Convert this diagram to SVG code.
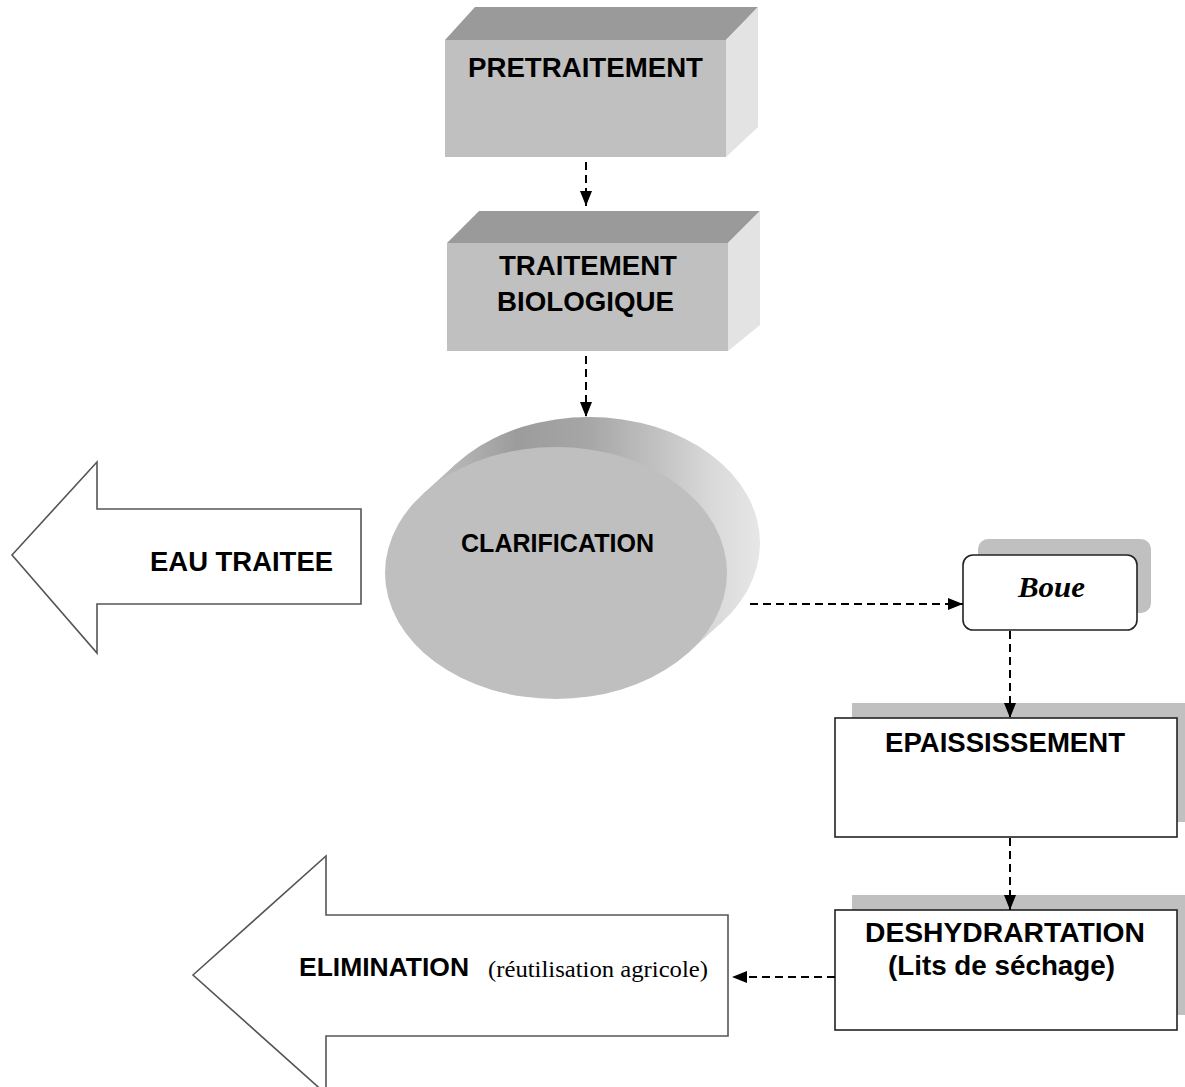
<svg xmlns="http://www.w3.org/2000/svg" width="1185" height="1087" viewBox="0 0 1185 1087">
<style>
.t{font-family:"Liberation Sans",Arial,sans-serif;font-weight:bold;fill:#000;text-anchor:middle}
.big{font-size:27.5px}
.conn{stroke:#000;stroke-width:2;stroke-dasharray:8 5;fill:none}
.out{fill:#fff;stroke:#555;stroke-width:1.6}
.front{fill:#c0c0c0}
.top{fill:#9a9a9a}
.side{fill:#e3e3e3}
.shadow{fill:#c0c0c0}
.box{fill:#fff;stroke:#222;stroke-width:1.6}
</style>
<defs>
<marker id="ah" markerWidth="16" markerHeight="12" refX="15" refY="6" orient="auto" markerUnits="userSpaceOnUse">
<path d="M0,0 L15,6 L0,12 z" fill="#000"/>
</marker>
<linearGradient id="cyl" gradientUnits="userSpaceOnUse" x1="410" y1="0" x2="765" y2="0">
<stop offset="0" stop-color="#c8c8c8"/>
<stop offset="0.3" stop-color="#9c9c9c"/>
<stop offset="0.5" stop-color="#a6a6a6"/>
<stop offset="0.7" stop-color="#c2c2c2"/>
<stop offset="0.85" stop-color="#d9d9d9"/>
<stop offset="1" stop-color="#e8e8e8"/>
</linearGradient>
</defs>

<g id="pretraitement">
<polygon class="top" points="445,40 475,7 758,7 726,40"/>
<polygon class="side" points="726,40 758,7 758,127 726,157"/>
<rect class="front" x="445" y="40" width="281" height="117"/>
<text class="t big" x="585.5" y="77" textLength="235" lengthAdjust="spacingAndGlyphs">PRETRAITEMENT</text>
</g>

<g id="traitement-biologique">
<polygon class="top" points="447,243 479,211 760,211 728,243"/>
<polygon class="side" points="728,243 760,211 760,325 728,351"/>
<rect class="front" x="447" y="243" width="281" height="108"/>
<text class="t big" x="588" y="275" textLength="178" lengthAdjust="spacingAndGlyphs">TRAITEMENT</text>
<text class="t big" x="585.5" y="311" textLength="177" lengthAdjust="spacingAndGlyphs">BIOLOGIQUE</text>
</g>

<g id="clarification">
<ellipse cx="589" cy="543" rx="171" ry="126" fill="url(#cyl)"/>
<polygon points="688.8,652.3 721.8,622.3 456.2,463.7 423.2,493.7" fill="url(#cyl)"/>
<ellipse cx="556" cy="573" rx="171" ry="126" fill="#bfbfbf"/>
<text class="t" x="557.5" y="552" font-size="25" textLength="193" lengthAdjust="spacingAndGlyphs">CLARIFICATION</text>
</g>

<g id="eau-traitee">
<polygon class="out" points="12,555 97,462 97,509 361,509 361,604 97,604 97,653"/>
<text class="t big" x="241.5" y="571" textLength="183" lengthAdjust="spacingAndGlyphs">EAU TRAITEE</text>
</g>

<g id="boue">
<rect class="shadow" x="978" y="539" width="173" height="74" rx="10"/>
<rect class="box" x="963" y="555" width="174" height="75" rx="10"/>
<text x="1051.5" y="597" font-family="'Liberation Serif','Times New Roman',serif" font-style="italic" font-weight="bold" font-size="29" text-anchor="middle" textLength="67" lengthAdjust="spacingAndGlyphs">Boue</text>
</g>

<g id="epaississement">
<rect class="shadow" x="852" y="703" width="340" height="119"/>
<rect class="box" x="835" y="718" width="342" height="119"/>
<text class="t big" x="1005" y="752" textLength="240" lengthAdjust="spacingAndGlyphs">EPAISSISSEMENT</text>
</g>

<g id="deshydratation">
<rect class="shadow" x="852" y="895" width="340" height="120"/>
<rect class="box" x="835" y="910" width="342" height="120"/>
<text class="t big" x="1005" y="942" textLength="280" lengthAdjust="spacingAndGlyphs">DESHYDRARTATION</text>
<text class="t big" x="1001.5" y="975" textLength="227" lengthAdjust="spacingAndGlyphs">(Lits de séchage)</text>
</g>

<g id="elimination">
<polygon class="out" points="193,975 326,856 326,915 728,915 728,1036 326,1036 326,1094"/>
<text class="t" x="384" y="976" font-size="26" textLength="170" lengthAdjust="spacingAndGlyphs">ELIMINATION</text>
<text x="598" y="977" font-family="'Liberation Serif','Times New Roman',serif" font-size="24" text-anchor="middle" textLength="220" lengthAdjust="spacingAndGlyphs">(réutilisation agricole)</text>
</g>

<g id="connectors">
<line class="conn" x1="586" y1="162" x2="586" y2="206" marker-end="url(#ah)"/>
<line class="conn" x1="586" y1="356" x2="586" y2="417" marker-end="url(#ah)"/>
<line class="conn" x1="750" y1="604" x2="963" y2="604" marker-end="url(#ah)"/>
<line class="conn" x1="1010" y1="631" x2="1010" y2="718" marker-end="url(#ah)"/>
<line class="conn" x1="1010" y1="838" x2="1010" y2="910" marker-end="url(#ah)"/>
<line class="conn" x1="835" y1="977" x2="732" y2="977" marker-end="url(#ah)"/>
</g>
</svg>
